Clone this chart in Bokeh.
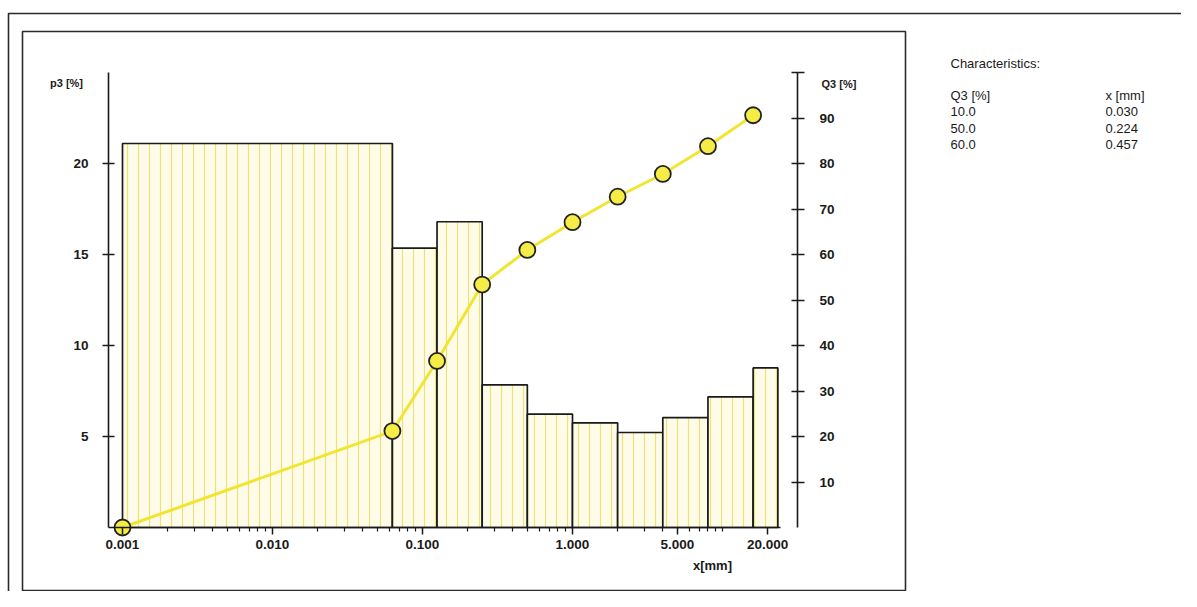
import math
from bokeh.plotting import figure
from bokeh.models import (LinearAxis, Range1d, FixedTicker, PrintfTickFormatter,
                          Label, BoxAnnotation, ColumnDataSource)
from bokeh.embed import file_html
from bokeh.resources import INLINE

# ---------------- data ----------------
size_lower = [0.001, 0.063, 0.125, 0.25, 0.5, 1.0, 2.0, 4.0, 8.0, 16.0]
size_upper = [0.063, 0.125, 0.25, 0.5, 1.0, 2.0, 4.0, 8.0, 16.0, 23.4]
p3_values = [21.1, 15.35, 16.8, 7.84, 6.23, 5.75, 5.22, 6.04, 7.18, 8.77]

q3_sizes = [0.001, 0.063, 0.125, 0.25, 0.5, 1.0, 2.0, 4.0, 8.0, 16.0]
q3_values = [0.0, 21.2, 36.6, 53.4, 61.0, 67.1, 72.7, 77.7, 83.8, 90.6]

x_major_ticks = [0.001, 0.01, 0.1, 1.0, 5.0, 20.0]
p3_ticks = [5, 10, 15, 20]
q3_ticks = [10, 20, 30, 40, 50, 60, 70, 80, 90, 100]

char_q3 = ["10.0", "50.0", "60.0"]
char_x = ["0.030", "0.224", "0.457"]

# ---------------- layout ----------------
W, H = 1181, 591
PAGE = 0
DEC_PX = 150.0      # pixels per decade
X0 = 122            # picture x of 0.001
Y0 = 527            # picture y of zero
P3_PX = 18.2        # pixels per p3 unit
FONT = "Liberation Sans"
INK = "#1a1a1a"
TICK_FS = "13.5px"


def xval(page_x):
    return 10 ** (-3 + (page_x - X0) / DEC_PX)


def p3val(page_y):
    return (Y0 - page_y) / P3_PX


x_minor = []
for d in range(-3, 2):
    for k in range(1, 10):
        v = k * 10 ** d
        if v <= 20 and all(abs(v - t) > 1e-9 for t in x_major_ticks):
            x_minor.append(v)

p = figure(width=W, height=H, x_axis_type="log",
           x_range=Range1d(xval(PAGE), xval(PAGE + W)),
           y_range=Range1d(p3val(PAGE + H), p3val(PAGE)),
           output_backend="svg", toolbar_location=None,
           min_border=0, min_border_left=0, min_border_right=0,
           min_border_top=0, min_border_bottom=0,
           outline_line_color=None, background_fill_color="white",
           border_fill_color="white")
p.grid.visible = False
p.extra_y_ranges = {"q3": Range1d(4 * p3val(PAGE + H), 4 * p3val(PAGE))}

# bottom axis
xa = p.xaxis[0]
xa.fixed_location = 0
xa.ticker = FixedTicker(ticks=x_major_ticks, minor_ticks=x_minor)
xa.formatter = PrintfTickFormatter(format="%.3f")
xa.bounds = (xval(108), xval(780))
xa.axis_line_width = 1.6
xa.axis_line_color = INK
xa.major_tick_in = 0
xa.major_tick_out = 7
xa.minor_tick_in = 0
xa.minor_tick_out = 4
xa.major_tick_line_width = 1.5
xa.minor_tick_line_width = 1.2
xa.major_tick_line_color = INK
xa.minor_tick_line_color = INK
xa.major_label_standoff = 5
xa.major_label_text_font = FONT
xa.major_label_text_font_size = TICK_FS
xa.major_label_text_font_style = "bold"
xa.major_label_text_color = INK

# left axis
ya = p.yaxis[0]
ya.fixed_location = xval(108)
ya.ticker = FixedTicker(ticks=p3_ticks)
ya.bounds = (0, 25)
ya.axis_line_width = 1.6
ya.axis_line_color = INK
ya.major_tick_in = 6
ya.major_tick_out = 6
ya.minor_tick_in = 0
ya.minor_tick_out = 0
ya.major_tick_line_width = 1.5
ya.major_tick_line_color = INK
ya.major_label_standoff = 14
ya.major_label_text_font = FONT
ya.major_label_text_font_size = TICK_FS
ya.major_label_text_font_style = "bold"
ya.major_label_text_color = INK

# right axis
ra = LinearAxis(y_range_name="q3", fixed_location=xval(797),
                ticker=FixedTicker(ticks=q3_ticks), bounds=(0, 100),
                major_label_overrides={100: ""})
ra.axis_line_width = 1.6
ra.axis_line_color = INK
ra.major_tick_in = 6
ra.major_tick_out = 7
ra.minor_tick_in = 0
ra.minor_tick_out = 0
ra.major_tick_line_width = 1.5
ra.major_tick_line_color = INK
ra.major_label_standoff = 15
ra.major_label_text_font = FONT
ra.major_label_text_font_size = TICK_FS
ra.major_label_text_font_style = "bold"
ra.major_label_text_color = INK
p.add_layout(ra, "right")

# bars
bars = ColumnDataSource(dict(left=size_lower, right=size_upper, top=p3_values,
                             bottom=[0] * len(p3_values)))
p.quad(left="left", right="right", top="top", bottom="bottom", source=bars,
       fill_color="#fefce9", line_color=INK, line_width=1.7,
       hatch_pattern="vertical_line", hatch_scale=11, hatch_weight=1.2,
       hatch_color="#ebe27a")

# cumulative curve
cum = ColumnDataSource(dict(x=q3_sizes, y=q3_values))
p.line("x", "y", source=cum, y_range_name="q3", line_color="#f2e531", line_width=3)
p.scatter("x", "y", source=cum, y_range_name="q3", size=16,
          fill_color="#f5ec45", line_color="#222222", line_width=1.8)

# frames
for left, right, top, bottom in [(22, 905, H - 31, 1), (8, W + 20, H - 13, -20)]:
    p.add_layout(BoxAnnotation(left=left, right=right, top=top, bottom=bottom,
                               left_units="screen", right_units="screen",
                               top_units="screen", bottom_units="screen",
                               fill_alpha=0, line_color="#2a2a2a", line_alpha=1.0,
                               line_width=1.6))


def add_text(txt, page_x, page_y, size="13px", align="left", style="normal"):
    p.add_layout(Label(x=page_x - PAGE, y=H - (page_y - PAGE), x_units="screen",
                       y_units="screen", text=txt, text_font=FONT,
                       text_font_size=size, text_color=INK, text_align=align,
                       text_baseline="middle", text_font_style=style))


add_text("p3 [%]", 66, 82, "11px", "center", "bold")
add_text("Q3 [%]", 821, 83, "11px", "left", "bold")
add_text("x[mm]", 712, 565, "13px", "center", "bold")

add_text("Characteristics:", 950, 63, "13px")
add_text("Q3 [%]", 950, 95, "13px")
add_text("x [mm]", 1105, 95, "13px")
for i, (a, b) in enumerate(zip(char_q3, char_x)):
    add_text(a, 950, 111 + 16.5 * i, "13px")
    add_text(b, 1105, 111 + 16.5 * i, "13px")

open("out.html", "w").write(file_html(p, INLINE))
